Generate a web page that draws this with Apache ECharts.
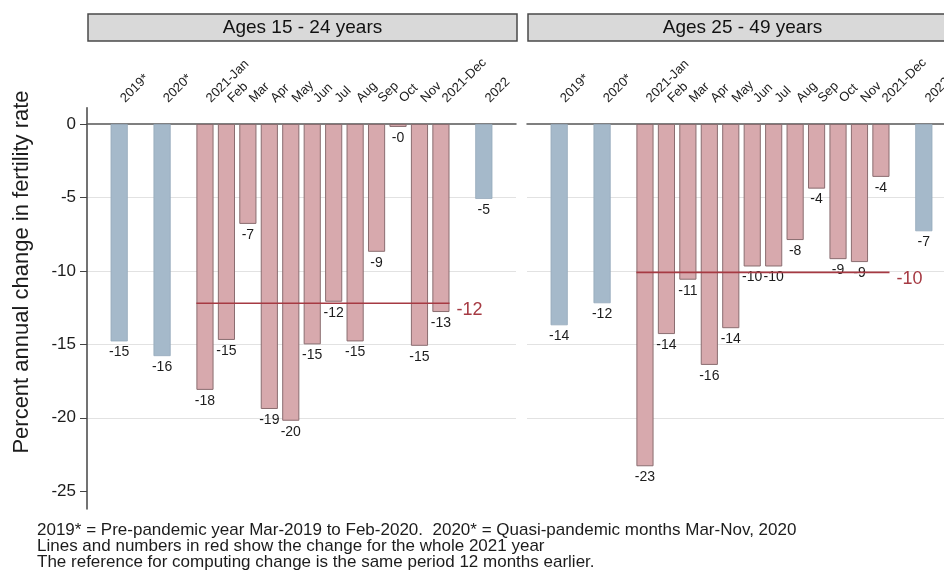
<!DOCTYPE html>
<html>
<head>
<meta charset="utf-8">
<script src="https://cdn.jsdelivr.net/npm/echarts@6/dist/echarts.min.js"></script>
<style>
  html, body { margin: 0; padding: 0; background: #ffffff; }
  #chart { width: 944px; height: 570px; }
</style>
</head>
<body>
<div id="chart"></div>
<script>
// Periods shown on the horizontal axis (annual reference periods and 2021 months)
const periods = ['2019*', '2020*', '2021-Jan', 'Feb', 'Mar', 'Apr', 'May', 'Jun',
                 'Jul', 'Aug', 'Sep', 'Oct', 'Nov', '2021-Dec', '2022'];
const monthlyPeriods = periods.slice(2, 14);

// Percent annual change in fertility rate, by age group
const change15to24 = [-14.8, -15.8, -18.1, -14.7, -6.8, -19.4, -20.2, -15.0,
                      -12.1, -14.8, -8.7, -0.2, -15.1, -12.8, -5.1];
const change25to49 = [-13.7, -12.2, -23.3, -14.3, -10.6, -16.4, -13.9, -9.7,
                      -9.7, -7.9, -4.4, -9.2, -9.4, -3.6, -7.3];

// Change for the whole 2021 year
const year2021Change15to24 = -12.2;
const year2021Change25to49 = -10.1;

const panelTitles = ['Ages 15 - 24 years', 'Ages 25 - 49 years'];
const yTicks = [0, -5, -10, -15, -20, -25];
const yTitle = 'Percent annual change in fertility rate';
const notes = [
  '2019* = Pre-pandemic year Mar-2019 to Feb-2020.  2020* = Quasi-pandemic months Mar-Nov, 2020',
  'Lines and numbers in red show the change for the whole 2021 year',
  'The reference for computing change is the same period 12 months earlier.'
];

const FONT = '"Liberation Sans", Arial, Helvetica, sans-serif';
const PINK = '#d7a9ad';
const PINK_EDGE = '#8a6d70';
const BLUE = '#a5b9ca';
const BLUE_EDGE = '#95a9bb';
const RED = '#a63a43';
const INK = '#1c1c1c';

// Axis categories: blank slots separate the annual bars from the monthly run
const axisCats = (() => {
  const out = [];
  let n = 0;
  const gap = () => out.push(' '.repeat(++n));
  gap(); out.push(periods[0]);
  gap(); out.push(periods[1]);
  gap(); monthlyPeriods.forEach(p => out.push(p));
  gap(); out.push(periods[14]);
  gap();
  return out;
})();

function seriesValues(values, monthly) {
  return axisCats.map(c => {
    const i = periods.indexOf(c);
    if (i < 0) return '-';
    const isMonth = monthlyPeriods.includes(c);
    return isMonth === monthly ? values[i] : '-';
  });
}

const janIdx = axisCats.indexOf('2021-Jan');
const decIdx = axisCats.indexOf('2021-Dec');

// y extent of each panel, a little beyond the labelled range
const Y_MIN = -26.2, Y_MAX = 1.1;
const PX_PER_UNIT = 14.69;
const gridTop = 124 - Y_MAX * PX_PER_UNIT;
const gridHeight = (Y_MAX - Y_MIN) * PX_PER_UNIT;
const panelLefts = [87, 527];
const panelWidth = 429;

const barLabel = {
  show: true,
  position: 'bottom',
  distance: 4,
  fontFamily: FONT,
  fontSize: 14,
  color: INK,
  formatter: p => Number(p.value).toFixed(0)
};

function barSeries(gridIdx, values) {
  return [
    {
      type: 'bar', xAxisIndex: gridIdx, yAxisIndex: gridIdx,
      data: seriesValues(values, false),
      barWidth: '80%', barGap: '-100%',
      itemStyle: { color: BLUE, borderColor: BLUE_EDGE, borderWidth: 0.8 },
      label: barLabel
    },
    {
      type: 'bar', xAxisIndex: gridIdx, yAxisIndex: gridIdx,
      data: seriesValues(values, true),
      barWidth: '80%', barGap: '-100%',
      itemStyle: { color: PINK, borderColor: PINK_EDGE, borderWidth: 1 },
      label: barLabel
    }
  ];
}

// Horizontal red line across the 2021 months with its value at the right end
function yearLineSeries(gridIdx, value) {
  return {
    type: 'custom', xAxisIndex: gridIdx, yAxisIndex: gridIdx,
    z: 5,
    data: [[janIdx, value, decIdx]],
    renderItem: (params, api) => {
      const v = api.value(1);
      const a = api.coord([api.value(0), v]);
      const b = api.coord([api.value(2), v]);
      const half = api.size([1, 0])[0] * 0.4;
      return {
        type: 'group',
        children: [
          { type: 'line',
            shape: { x1: a[0] - half, y1: a[1], x2: b[0] + half, y2: b[1] },
            style: { stroke: RED, lineWidth: 1.6 } },
          { type: 'text',
            x: b[0] + half + 7, y: b[1] + 7,
            style: { text: Number(v).toFixed(0), fill: RED,
                     font: '18px ' + FONT, align: 'left', verticalAlign: 'middle' } }
        ]
      };
    }
  };
}

function xAxis(gridIdx) {
  return {
    gridIndex: gridIdx, type: 'category', data: axisCats, position: 'top',
    axisLine: { onZero: true, lineStyle: { color: '#555555', width: 1.5 } },
    axisTick: { show: false },
    axisLabel: {
      interval: 0, rotate: 45, margin: 11,
      align: 'left', verticalAlign: 'top', lineHeight: 10,
      fontFamily: FONT, fontSize: 13, color: INK
    },
    splitLine: { show: false }
  };
}

function yAxis(gridIdx, withLabels) {
  return {
    gridIndex: gridIdx, type: 'value', min: Y_MIN, max: Y_MAX,
    axisLine: { show: withLabels, onZero: false, lineStyle: { color: '#444444', width: 1.5 } },
    axisTick: { show: withLabels, length: 7, customValues: yTicks,
                lineStyle: { color: '#444444', width: 1 } },
    axisLabel: { show: withLabels, customValues: yTicks, margin: 11,
                 fontFamily: FONT, fontSize: 17, color: INK },
    splitLine: { show: true, showMinLine: false, showMaxLine: false,
                 lineStyle: { color: '#e2e2e2', width: 1 } }
  };
}

const graphics = [];
panelTitles.forEach((t, i) => {
  const left = panelLefts[i] + 1;
  graphics.push({
    type: 'rect', shape: { x: left, y: 14, width: panelWidth, height: 27 },
    style: { fill: '#d9d9d9', stroke: '#4a4a4a', lineWidth: 1.5 }, z: 10
  });
  graphics.push({
    type: 'text', x: left + panelWidth / 2, y: 28,
    style: { text: t, font: '19px ' + FONT, fill: '#111111',
             align: 'center', verticalAlign: 'middle' }, z: 11
  });
});
graphics.push({
  type: 'text', x: 22, y: 272, rotation: Math.PI / 2,
  style: { text: yTitle, font: '22px ' + FONT, fill: INK,
           align: 'center', verticalAlign: 'middle' }
});
notes.forEach((line, i) => {
  graphics.push({
    type: 'text', x: 37, y: 530 + i * 16,
    style: { text: line, font: '17px ' + FONT, fill: INK,
             align: 'left', verticalAlign: 'middle' }
  });
});

const chart = echarts.init(document.getElementById('chart'), null, { renderer: 'canvas' });
chart.setOption({
  backgroundColor: '#ffffff',
  animation: false,
  grid: panelLefts.map(l => ({
    left: l, top: gridTop, width: panelWidth, height: gridHeight,
    outerBoundsMode: 'none', containLabel: false
  })),
  xAxis: [xAxis(0), xAxis(1)],
  yAxis: [yAxis(0, true), yAxis(1, false)],
  series: [
    ...barSeries(0, change15to24),
    ...barSeries(1, change25to49),
    yearLineSeries(0, year2021Change15to24),
    yearLineSeries(1, year2021Change25to49)
  ],
  graphic: graphics
});
</script>
</body>
</html>
